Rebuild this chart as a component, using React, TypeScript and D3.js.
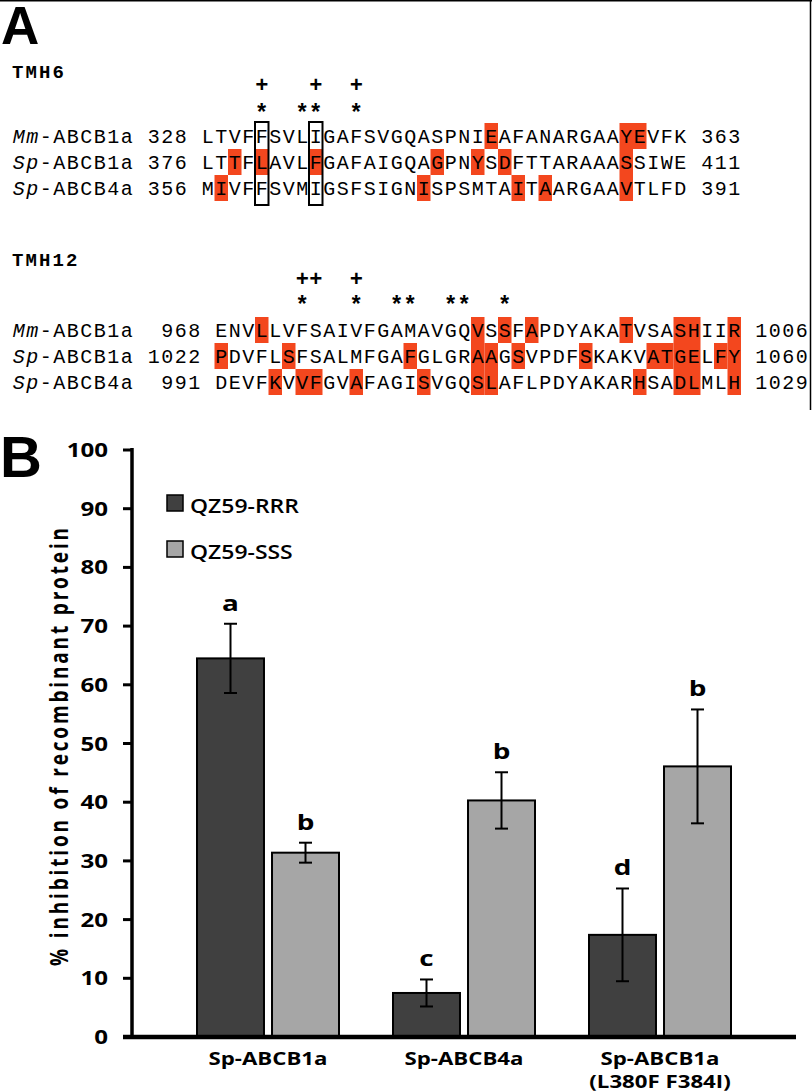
import React from "react";
import * as d3 from "d3";

// ---------- Panel A data ----------
const tmh6Names = ["Mm-ABCB1a", "Sp-ABCB1a", "Sp-ABCB4a"];
const tmh6Start = [328, 376, 356];
const tmh6End = [363, 411, 391];
const tmh6Seqs = [
  "LTVFFSVLIGAFSVGQASPNIEAFANARGAAYEVFK",
  "LTTFLAVLFGAFAIGQAGPNYSDFTTARAAASSIWE",
  "MIVFFSVMIGSFSIGNISPSMTAITAARGAAVTLFD",
];
const tmh6Highlights = [
  [21, 31, 32],
  [2, 4, 8, 17, 20, 22, 31],
  [1, 16, 23, 25, 31],
];
const tmh6Plus = [4, 8, 11];
const tmh6Stars = [4, 7, 8, 11];
const tmh6Boxes = [4, 8];

const tmh12Names = ["Mm-ABCB1a", "Sp-ABCB1a", "Sp-ABCB4a"];
const tmh12Start = [968, 1022, 991];
const tmh12End = [1006, 1060, 1029];
const tmh12Seqs = [
  "ENVLLVFSAIVFGAMAVGQVSSFAPDYAKATVSASHIIR",
  "PDVFLSFSALMFGAFGLGRAAGSVPDFSKAKVATGELFY",
  "DEVFKVVFGVAFAGISVGQSLAFLPDYAKARHSADLMLH",
];
const tmh12Highlights = [
  [3, 19, 21, 23, 30, 34, 35, 38],
  [0, 5, 14, 19, 20, 22, 27, 32, 33, 34, 35, 37, 38],
  [4, 6, 7, 10, 15, 19, 20, 31, 34, 35, 38],
];
const tmh12Plus = [6, 7, 10];
const tmh12Stars = [6, 10, 13, 14, 17, 18, 21];

// ---------- Panel B data ----------
const categories = ["Sp-ABCB1a", "Sp-ABCB4a", "Sp-ABCB1a"];
const categorySub = ["", "", "(L380F F384I)"];
const seriesNames = ["QZ59-RRR", "QZ59-SSS"];
const rrrMeans = [64.5, 7.5, 17.4];
const rrrErr = [5.9, 2.3, 7.9];
const sssMeans = [31.4, 40.3, 46.1];
const sssErr = [1.7, 4.8, 9.7];
const rrrLetters = ["a", "c", "d"];
const sssLetters = ["b", "b", "b"];
const yTicks = [0, 10, 20, 30, 40, 50, 60, 70, 80, 90, 100];

// ---------- layout ----------
const W = 812;
const H = 1092;
const CW = 13.5;
const X0 = 12;
const RED = "#f3471e";
const MONO = "'Courier New', 'Liberation Mono', monospace";
const SANS = "'Open Sans', 'Liberation Sans', sans-serif";
const SX = 1.27;
const ROWH = 26;

type BlockProps = {
  title: string;
  titleY: number;
  plusY: number;
  starY: number;
  rowTop: number;
  names: string[];
  starts: number[];
  ends: number[];
  seqs: string[];
  highlights: number[][];
  plus: number[];
  stars: number[];
  boxes: number[];
  seqCol: number;
};

function Label({ name, x, y }: { name: string; x: number; y: number }) {
  const [pre, ...rest] = name.split("-");
  return (
    <text x={x} y={y} fontFamily={MONO} fontSize={20} letterSpacing={1.5} fill="#000">
      <tspan fontStyle="italic">{pre}</tspan>
      <tspan>{"-" + rest.join("-")}</tspan>
    </text>
  );
}

function Block(p: BlockProps) {
  const xSeq = X0 + p.seqCol * CW;
  const colX = (c: number) => X0 + c * CW;
  return (
    <g>
      <text x={X0} y={p.titleY} fontFamily={MONO} fontSize={19} fontWeight="bold" letterSpacing={2.1}>
        {p.title}
      </text>
      {p.plus.map((c) => (
        <text key={"p" + c} x={xSeq + c * CW + CW / 2} y={p.plusY} textAnchor="middle" fontFamily={MONO} fontSize={22} fontWeight="bold">
          +
        </text>
      ))}
      {p.stars.map((c) => (
        <text key={"s" + c} x={xSeq + c * CW + CW / 2} y={p.starY} textAnchor="middle" fontFamily={MONO} fontSize={23} fontWeight="bold">
          *
        </text>
      ))}
      {p.seqs.map((seq, r) =>
        p.highlights[r].map((i) => (
          <rect key={`h${r}-${i}`} x={xSeq + i * CW} y={p.rowTop + r * ROWH} width={CW} height={ROWH} fill={RED} />
        ))
      )}
      {p.seqs.map((seq, r) => {
        const y = p.rowTop + r * ROWH + 20;
        const numStr = String(p.starts[r]);
        const numCol = p.seqCol - 1 - numStr.length;
        return (
          <g key={"r" + r}>
            <Label name={p.names[r]} x={X0 + 0.75} y={y} />
            <text x={colX(numCol) + 0.75} y={y} fontFamily={MONO} fontSize={20} letterSpacing={1.5}>
              {numStr}
            </text>
            <text x={xSeq + 0.75} y={y} fontFamily={MONO} fontSize={20} letterSpacing={1.5}>
              {seq}
            </text>
            <text x={xSeq + (seq.length + 1) * CW + 0.75} y={y} fontFamily={MONO} fontSize={20} letterSpacing={1.5}>
              {String(p.ends[r])}
            </text>
          </g>
        );
      })}
      {p.boxes.map((c) => (
        <rect
          key={"b" + c}
          x={xSeq + c * CW}
          y={p.rowTop - 1}
          width={CW}
          height={ROWH * 3 + 5}
          fill="none"
          stroke="#000"
          strokeWidth={2}
        />
      ))}
    </g>
  );
}

function SText({ x, y, anchor = "start", size, weight = "bold", sx = SX, children }: any) {
  return (
    <g transform={`translate(${x},${y}) scale(${sx},1)`}>
      <text x={0} y={0} textAnchor={anchor} fontFamily={SANS} fontSize={size} fontWeight={weight} fill="#000">
        {children}
      </text>
    </g>
  );
}

export default function App() {
  // Panel B scales
  const y = d3.scaleLinear().domain([0, 100]).range([1037, 450]);
  const x0 = d3
    .scaleBand<number>()
    .domain(categories.map((_, i) => i))
    .range([170, 758])
    .padding(0);
  const x1 = d3
    .scaleBand<string>()
    .domain(seriesNames)
    .range([0, x0.bandwidth()])
    .paddingInner(0.107)
    .paddingOuter(0.36);
  const series = [
    { name: seriesNames[0], means: rrrMeans, errs: rrrErr, letters: rrrLetters, fill: "#404040" },
    { name: seriesNames[1], means: sssMeans, errs: sssErr, letters: sssLetters, fill: "#a6a6a6" },
  ];
  const axisLeft = 132;
  const bw = x1.bandwidth();

  return (
    <svg
      width={W}
      height={H}
      viewBox={`0 0 ${W} ${H}`}
      style={{ position: "absolute", left: 0, top: 0, background: "#fff" }}
    >
      <rect x={0} y={0} width={W} height={H} fill="#fff" />
      {/* frame of panel A */}
      <line x1={0} y1={0.75} x2={W} y2={0.75} stroke="#000" strokeWidth={1.5} />
      <line x1={810.5} y1={0} x2={810.5} y2={410} stroke="#000" strokeWidth={1.5} />

      {/* Panel A */}
      <text x={1} y={44} fontFamily="'Liberation Sans', Arial, sans-serif" fontWeight="bold" fontSize={53}>
        A
      </text>
      <Block
        title="TMH6"
        titleY={78}
        plusY={92}
        starY={121}
        rowTop={123}
        names={tmh6Names}
        starts={tmh6Start}
        ends={tmh6End}
        seqs={tmh6Seqs}
        highlights={tmh6Highlights}
        plus={tmh6Plus}
        stars={tmh6Stars}
        boxes={tmh6Boxes}
        seqCol={14}
      />
      <Block
        title="TMH12"
        titleY={266}
        plusY={286}
        starY={313}
        rowTop={317}
        names={tmh12Names}
        starts={tmh12Start}
        ends={tmh12End}
        seqs={tmh12Seqs}
        highlights={tmh12Highlights}
        plus={tmh12Plus}
        stars={tmh12Stars}
        boxes={[]}
        seqCol={15}
      />

      {/* Panel B */}
      <text x={0} y={477} fontFamily="'Liberation Sans', Arial, sans-serif" fontWeight="bold" fontSize={58}>
        B
      </text>

      {/* y ticks */}
      {yTicks.map((t) => (
        <g key={"t" + t}>
          <line x1={axisLeft - 9} x2={axisLeft} y1={y(t)} y2={y(t)} stroke="#000" strokeWidth={3} />
          <SText x={108} y={y(t) + 7} anchor="end" size={19}>
            {String(t)}
          </SText>
        </g>
      ))}

      {/* y title */}
      <g transform={`translate(68,747) scale(${SX},1) rotate(-90)`}>
        <text
          x={0}
          y={0}
          textAnchor="middle"
          fontFamily={SANS}
          fontSize={19}
          fontWeight="bold"
          textLength={438}
          lengthAdjust="spacing"
        >
          % inhibition of recombinant protein
        </text>
      </g>

      {/* legend */}
      {series.map((s, i) => (
        <g key={"lg" + i}>
          <rect x={167} y={495 + i * 46} width={16} height={16} fill={s.fill} stroke="#000" strokeWidth={1.5} />
          <SText x={190} y={513 + i * 46} size={20.5} weight={600} sx={1.12}>
            {s.name}
          </SText>
        </g>
      ))}

      {/* bars */}
      {categories.map((c, ci) =>
        series.map((s, si) => {
          const bx = (x0(ci) as number) + (x1(s.name) as number);
          const m = s.means[ci];
          const e = s.errs[ci];
          const cx = bx + bw / 2;
          return (
            <g key={`bar${ci}-${si}`}>
              <rect x={bx} y={y(m)} width={bw} height={y(0) - y(m)} fill={s.fill} stroke="#000" strokeWidth={2} />
              <line x1={cx} x2={cx} y1={y(m + e)} y2={y(m - e)} stroke="#000" strokeWidth={2} />
              <line x1={cx - 6.5} x2={cx + 6.5} y1={y(m + e)} y2={y(m + e)} stroke="#000" strokeWidth={2} />
              <line x1={cx - 6.5} x2={cx + 6.5} y1={y(m - e)} y2={y(m - e)} stroke="#000" strokeWidth={2} />
              <SText x={cx} y={y(m + e) - 13} anchor="middle" size={22}>
                {s.letters[ci]}
              </SText>
            </g>
          );
        })
      )}

      {/* axes */}
      <line x1={axisLeft} x2={axisLeft} y1={448} y2={y(0)} stroke="#000" strokeWidth={3.5} />
      <line x1={123} x2={796} y1={y(0)} y2={y(0)} stroke="#000" strokeWidth={4.5} />

      {/* category labels */}
      {categories.map((c, ci) => {
        const cx = (x0(ci) as number) + x0.bandwidth() / 2;
        return (
          <g key={"cl" + ci}>
            <SText x={cx} y={1065} anchor="middle" size={17.5}>
              {c}
            </SText>
            {categorySub[ci] ? (
              <SText x={cx} y={1088} anchor="middle" size={17.5}>
                {categorySub[ci]}
              </SText>
            ) : null}
          </g>
        );
      })}
    </svg>
  );
}
